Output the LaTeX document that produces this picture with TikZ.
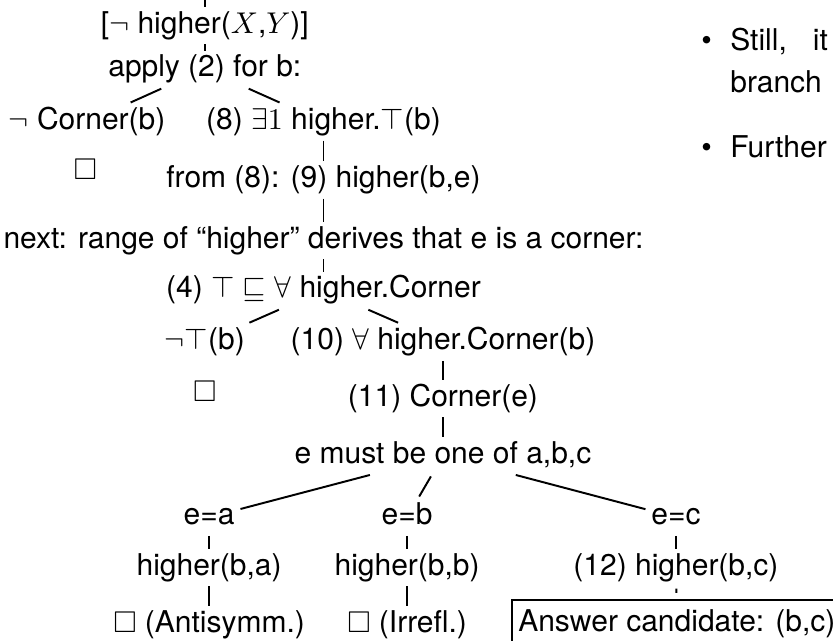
\documentclass[tikz,border=0pt]{standalone}
\usepackage{amssymb}
\usepackage[no-math]{fontspec}
\setmainfont{TeX Gyre Heros}
\usepackage{tikz}

\begin{document}
\begin{tikzpicture}[
  lbl/.style={inner sep=1pt, text height=.75em, text depth=.25em},
  closed/.style={inner sep=1pt},
  edge/.style={line width=.65pt, shorten <=.8pt, shorten >=.8pt},
  tick/.style={edge, shorten <=0pt, shorten >=0pt},
  answerbox/.style={lbl, draw, line width=.65pt, inner xsep=2.2pt, inner ysep=3pt},
  font=\fontsize{10}{12}\selectfont]
\useasboundingbox (0,0) rectangle (9.76,-7.50);
\clip (0,0) rectangle (9.76,-7.50);

%%% ROOT AND FIRST SPLIT
\coordinate (up) at (2.40,0.30);
\node[lbl] (root)  at (2.40,-0.30) {[$\neg$ higher($X$,$Y$)]};
\node[lbl] (apply) at (2.40,-0.81) {apply (2) for b:};
\node[lbl] (corner) at (1.02,-1.43) {$\neg$ Corner(b)};
\node[closed] (closedA) at (1.00,-1.99) {$\Box$};
\node[lbl] (ex8)   at (3.79,-1.43) {(8) $\exists 1$ higher.$\top$(b)};
\node[lbl] (h9)    at (3.79,-2.11) {from (8): (9) higher(b,e)};
\node[lbl] (next)  at (3.79,-2.82) {next: range of ``higher'' derives that e is a corner:};

%%% RANGE AXIOM
\node[lbl] (ax4)    at (3.79,-3.40) {(4) $\top \sqsubseteq \forall$ higher.Corner};
\node[lbl] (nottop) at (2.40,-4.01) {$\neg\top$(b)};
\node[closed] (closedB) at (2.40,-4.59) {$\Box$};
\node[lbl] (all10)  at (5.19,-4.01) {(10) $\forall$ higher.Corner(b)};
\node[lbl] (cor11)  at (5.19,-4.67) {(11) Corner(e)};
\node[lbl] (must)   at (5.19,-5.34) {e must be one of a,b,c};

%%% THREE CASES
\node[lbl] (ea) at (2.45,-6.06) {e=a};
\node[lbl] (eb) at (4.77,-6.06) {e=b};
\node[lbl] (ec) at (7.92,-6.06) {e=c};
\node[lbl] (hba) at (2.45,-6.65) {higher(b,a)};
\node[lbl] (hbb) at (4.77,-6.65) {higher(b,b)};
\node[lbl] (hbc) at (7.92,-6.65) {(12) higher(b,c)};
\node[lbl] (antisym) at (2.45,-7.32) {$\Box$ (Antisymm.)};
\node[lbl] (irrefl)  at (4.77,-7.32) {$\Box$ (Irrefl.)};
\node[answerbox] (answer) at (7.93,-7.31) {Answer candidate: (b,c)};

\draw[tick] (up) -- (root);
\draw[tick] (root) -- (apply);
\draw[edge] (apply) -- (corner);
\draw[edge] (apply) -- (ex8);
\draw[tick] (ex8) -- (h9);
\draw[tick] (h9) -- (next);
\draw[tick] (next) -- (ax4);
\draw[edge] (ax4) -- (nottop);
\draw[edge] (ax4) -- (all10);
\draw[tick] (all10) -- (cor11);
\draw[tick] (cor11) -- (must);
\draw[edge] (must) -- (ea);
\draw[edge] (must) -- (eb);
\draw[edge] (must) -- (ec);
\draw[tick] (ea) -- (hba);
\draw[tick] (hba) -- (antisym);
\draw[tick] (eb) -- (hbb);
\draw[tick] (hbb) -- (irrefl);
\draw[tick] (ec) -- (hbc);
\draw[tick, shorten <=.8pt, shorten >=2pt] (hbc) -- (answer);

%%% BULLETS ON THE RIGHT
\node[anchor=base] (dotA) at (8.28,-0.59) {\textbullet};
\node[anchor=base west, inner sep=0pt] (still)  at (8.55,-0.59) {Still,\hspace{8.7pt}it};
\node[anchor=base west, inner sep=0pt] (branch) at (8.55,-1.08) {branch};
\node[anchor=base] (dotB) at (8.28,-1.84) {\textbullet};
\node[anchor=base west, inner sep=0pt] (further) at (8.55,-1.84) {Further};

\end{tikzpicture}
\end{document}
